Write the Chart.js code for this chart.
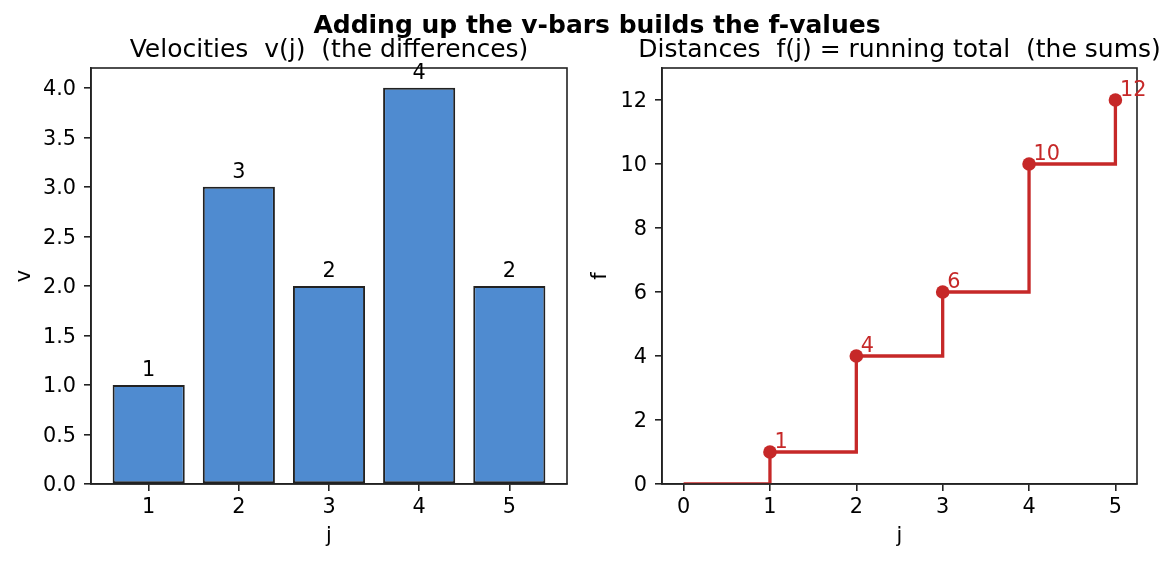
<!DOCTYPE html>
<html>

<head>
    <title>Adding up the v-bars</title>
    <script src="https://cdn.jsdelivr.net/npm/chart.js"></script>
    <style>
        body { margin: 0; background: #fff; font-family: "DejaVu Sans", sans-serif; }
        #wrap { position: relative; width: 1176px; height: 562px; }
        canvas { position: absolute; top: 0; }
        #velChart { left: 0; }
        #distChart { left: 588px; }
        #suptitle {
            position: absolute; left: 297px; width: 600px; top: 10px;
            text-align: center; font-weight: bold; font-size: 25px; line-height: 30px;
            color: #000; z-index: 2;
        }
    </style>
</head>

<body>
    <div id="wrap">
        <div id="suptitle">Adding up the v-bars builds the f-values</div>
        <canvas id="velChart" width="588" height="562"></canvas>
        <canvas id="distChart" width="588" height="562"></canvas>
    </div>

    <script>
        // values
        const jVals = [1, 2, 3, 4, 5];
        const vVals = [1, 3, 2, 4, 2];
        const jSteps = [0, 1, 2, 3, 4, 5];
        const fVals = [0, 1, 4, 6, 10, 12];

        const vTicks = [0, 0.5, 1, 1.5, 2, 2.5, 3, 3.5, 4];
        const fTicks = [0, 2, 4, 6, 8, 10, 12];
        const jTicksLeft = [1, 2, 3, 4, 5];
        const jTicksRight = [0, 1, 2, 3, 4, 5];

        const ink = '#222';
        const blue = '#4f8bd0';
        const red = '#c62828';
        const fs = 20.8;

        Chart.defaults.font.family = '"DejaVu Sans", sans-serif';
        Chart.defaults.color = '#000';

        // box around the plot area (four spines) + axes title centred over it
        const frame = {
            id: 'frame',
            afterDatasetsDraw(chart, args, opts) {
                const { ctx, chartArea: a } = chart;
                ctx.save();
                ctx.strokeStyle = ink;
                ctx.lineWidth = 1.6;
                ctx.strokeRect(a.left, a.top, a.right - a.left, a.bottom - a.top);
                ctx.font = '25px "DejaVu Sans"';
                ctx.fillStyle = '#000';
                ctx.textAlign = 'center';
                ctx.textBaseline = 'alphabetic';
                ctx.fillText(opts.text, (a.left + a.right) / 2, a.top - 11);
                ctx.restore();
            }
        };

        const barLabels = {
            id: 'barLabels',
            afterDatasetsDraw(chart) {
                const { ctx } = chart;
                const meta = chart.getDatasetMeta(0);
                ctx.save();
                ctx.font = fs + 'px "DejaVu Sans"';
                ctx.fillStyle = '#000';
                ctx.textAlign = 'center';
                ctx.textBaseline = 'alphabetic';
                meta.data.forEach((bar, i) => {
                    ctx.fillText(String(vVals[i]), bar.x, bar.y - 9);
                });
                ctx.restore();
            }
        };

        const pointLabels = {
            id: 'pointLabels',
            afterDatasetsDraw(chart) {
                const { ctx } = chart;
                const meta = chart.getDatasetMeta(0);
                ctx.save();
                ctx.font = fs + 'px "DejaVu Sans"';
                ctx.fillStyle = red;
                ctx.textAlign = 'left';
                ctx.textBaseline = 'alphabetic';
                meta.data.forEach((pt, i) => {
                    if (i === 0) return;
                    ctx.fillText(String(fVals[i]), pt.x + 4.5, pt.y - 4);
                });
                ctx.restore();
            }
        };

        function axisStyle(extra) {
            return Object.assign({
                type: 'linear',
                offset: false,
                grid: { offset: false, drawOnChartArea: false, tickLength: 7, color: ink, lineWidth: 1.6 },
                border: { color: ink, width: 1.6 },
            }, extra);
        }

        new Chart('velChart', {
            type: 'bar',
            data: {
                datasets: [{
                    data: jVals.map((j, i) => ({ x: j, y: vVals[i] })),
                    backgroundColor: blue,
                    borderColor: ink,
                    borderWidth: 2,
                    borderSkipped: false,
                    categoryPercentage: 1,
                    barPercentage: 0.8
                }]
            },
            options: {
                responsive: false,
                animation: false,
                layout: { padding: { left: 0, right: 21, top: 68, bottom: 0 } },
                plugins: {
                    legend: { display: false },
                    tooltip: { enabled: false },
                    frame: { text: 'Velocities  v(j)  (the differences)' }
                },
                scales: {
                    x: axisStyle({
                        min: 0.36, max: 5.64,
                        ticks: { font: { size: fs }, color: '#000', padding: 4 },
                        afterBuildTicks: s => { s.ticks = jTicksLeft.map(v => ({ value: v })); },
                        afterFit: s => { s.height = 78; },
                        title: { display: true, text: 'j', color: '#000', font: { size: fs }, padding: { top: 0, bottom: 13 } }
                    }),
                    y: axisStyle({
                        min: 0, max: 4.2,
                        ticks: { font: { size: fs }, color: '#000', padding: 8, labelOffset: 2, callback: v => v.toFixed(1) },
                        afterBuildTicks: s => { s.ticks = vTicks.map(v => ({ value: v })); },
                        afterFit: s => { s.width = 91; },
                        title: { display: true, text: 'v', color: '#000', font: { size: fs }, padding: { top: 12.5, bottom: 0 } }
                    })
                }
            },
            plugins: [frame, barLabels]
        });

        new Chart('distChart', {
            type: 'line',
            data: {
                datasets: [{
                    data: jSteps.map((j, i) => ({ x: j, y: fVals[i] })),
                    stepped: 'before',
                    borderColor: red,
                    borderWidth: 3.3,
                    backgroundColor: red,
                    pointBackgroundColor: red,
                    pointBorderWidth: 0,
                    pointRadius: ctx => ctx.dataIndex === 0 ? 0 : 6.8,
                    fill: false,
                    clip: 0
                }]
            },
            options: {
                responsive: false,
                animation: false,
                layout: { padding: { left: 0, right: 39, top: 68, bottom: 0 } },
                plugins: {
                    legend: { display: false },
                    tooltip: { enabled: false },
                    frame: { text: 'Distances  f(j) = running total  (the sums)' }
                },
                scales: {
                    x: axisStyle({
                        min: -0.25, max: 5.25,
                        ticks: { font: { size: fs }, color: '#000', padding: 4 },
                        afterBuildTicks: s => { s.ticks = jTicksRight.map(v => ({ value: v })); },
                        afterFit: s => { s.height = 78; },
                        title: { display: true, text: 'j', color: '#000', font: { size: fs }, padding: { top: 0, bottom: 13 } }
                    }),
                    y: axisStyle({
                        min: 0, max: 13,
                        ticks: { font: { size: fs }, color: '#000', padding: 8, labelOffset: 2 },
                        afterBuildTicks: s => { s.ticks = fTicks.map(v => ({ value: v })); },
                        afterFit: s => { s.width = 74; },
                        title: { display: true, text: 'f', color: '#000', font: { size: fs }, padding: { top: 0.5, bottom: 0 } }
                    })
                }
            },
            plugins: [frame, pointLabels]
        });
    </script>
</body>

</html>
